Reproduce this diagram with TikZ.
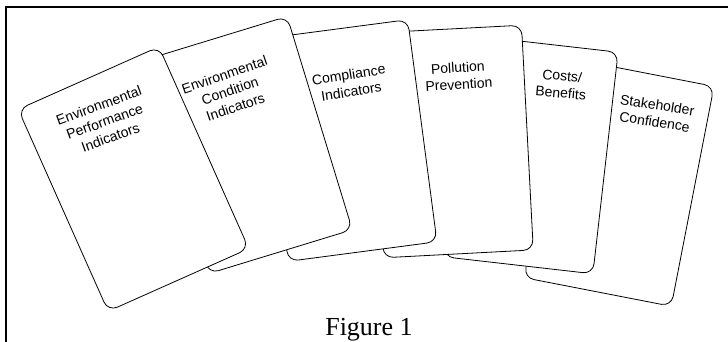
\documentclass[tikz,border=0pt]{standalone}
\usepackage{fontspec}
\setmainfont{Liberation Serif}
\newfontfamily\cardfont{Liberation Sans}
\begin{document}
\begin{tikzpicture}[x=1pt,y=1pt,
  card/.style={draw=black, line width=0.8pt, fill=white, rounded corners=10pt,
    minimum width=150pt, minimum height=223pt, inner sep=0pt},
  cardtext/.style={align=center, inner sep=0pt,
    font=\cardfont\fontsize{14}{17}\selectfont},
  frameline/.style={line width=2pt, line cap=rect}]
\useasboundingbox (0,0) rectangle (728,-341);
\draw[frameline] (6,-341) -- (6,-7) -- (728,-7);
% cards from back to front
\node[card, minimum height=224pt, rotate=-11] (c6) at (619,-182) {};
\node[cardtext, rotate=-9] (t6) at (656,-113.4) {Stakeholder\\Confidence};
\node[card, rotate=-6.5] (c5) at (531,-154.5) {};
\node[cardtext, rotate=-5] (t5) at (561.5,-84.3) {Costs/\\Benefits};
\node[card, minimum height=225pt, rotate=3] (c4) at (452.5,-141.5) {};
\node[cardtext, rotate=3.5] (t4) at (458.4,-76) {Pollution\\Prevention};
\node[card, minimum height=224pt, rotate=7.5] (c3) at (348,-140.5) {};
\node[cardtext, rotate=9] (t3) at (350,-83) {Compliance\\Indicators};
\node[card, rotate=17] (c2) at (248,-145) {};
\node[cardtext, rotate=19] (t2) at (230,-90.8) {Environmental\\Condition\\Indicators};
\node[card, minimum width=154pt, minimum height=221pt, rotate=24] (c1) at (133.5,-179) {};
\node[cardtext, rotate=20] (t1) at (104.6,-121.4) {Environmental\\Performance\\Indicators};
\node[font=\fontsize{26}{30}\selectfont, anchor=base, inner sep=0pt] (fig) at (369,-335) {Figure 1};
\end{tikzpicture}
\end{document}
